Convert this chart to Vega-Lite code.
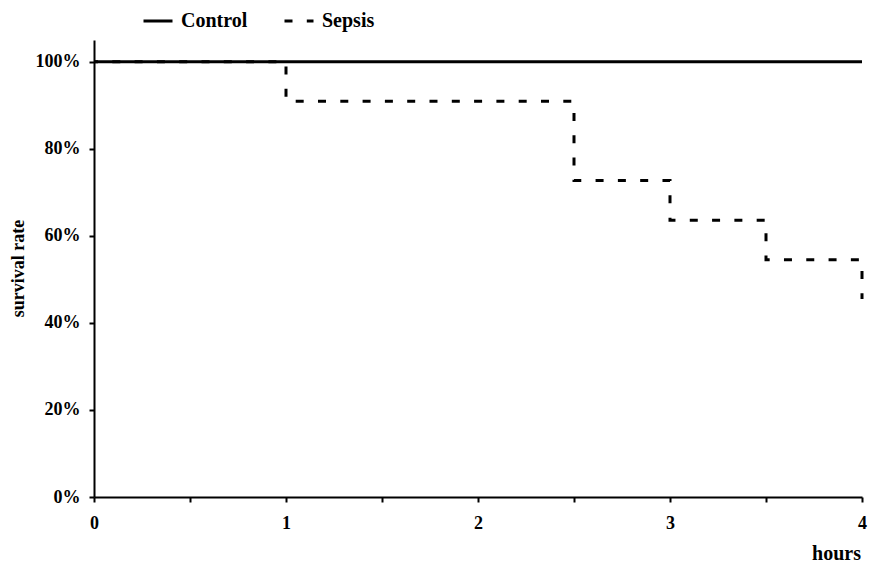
{
  "$schema": "https://vega.github.io/schema/vega-lite/v6.json",
  "width": 768,
  "height": 457,
  "autosize": {"type": "none"},
  "padding": {"left": 94, "top": 40, "right": 11, "bottom": 66},
  "background": "white",
  "config": {
    "view": {"stroke": null},
    "font": "Liberation Serif",
    "axis": {"grid": false, "domainColor": "black", "domainWidth": 2, "tickColor": "black", "tickWidth": 2, "tickSize": 5, "labelFont": "Liberation Serif", "labelFontWeight": "bold", "labelFontSize": 18, "labelColor": "black", "titleFont": "Liberation Serif", "titleFontWeight": "bold", "titleFontSize": 18, "titleColor": "black"},
    "legend": {"symbolStrokeColor": "black"}
  },
  "data": {
    "values": [
      {"series": "Control", "hours": 0, "rate": 1.0},
      {"series": "Control", "hours": 4, "rate": 1.0},
      {"series": "Sepsis", "hours": 0, "rate": 1.0},
      {"series": "Sepsis", "hours": 1, "rate": 0.909},
      {"series": "Sepsis", "hours": 2.5, "rate": 0.727},
      {"series": "Sepsis", "hours": 3, "rate": 0.636},
      {"series": "Sepsis", "hours": 3.5, "rate": 0.545},
      {"series": "Sepsis", "hours": 4, "rate": 0.455}
    ]
  },
  "mark": {"type": "line", "interpolate": "step-after", "color": "black", "strokeWidth": 3, "strokeCap": "butt", "strokeDashOffset": 4, "clip": false},
  "encoding": {
    "x": {
      "field": "hours", "type": "quantitative",
      "scale": {"domain": [0, 4], "nice": false, "zero": false},
      "axis": {
        "values": [0, 0.5, 1, 1.5, 2, 2.5, 3, 3.5, 4],
        "labelExpr": "datum.value % 1 === 0 ? format(datum.value, 'd') : ''",
        "labelPadding": 12,
        "labelFlush": false,
        "title": "hours",
        "titleX": 742,
        "titleY": 62,
        "titleAlign": "center",
        "titleBaseline": "alphabetic",
        "titleFontSize": 20
      }
    },
    "y": {
      "field": "rate", "type": "quantitative",
      "scale": {"domain": [0, 1.05], "nice": false, "zero": true},
      "axis": {
        "values": [0, 0.2, 0.4, 0.6, 0.8, 1.0],
        "format": ".0%",
        "labelPadding": 9,
        "title": "survival rate",
        "titleX": -76,
        "titleY": 228,
        "titleAngle": -90,
        "titleAlign": "center",
        "titleBaseline": "middle",
        "titleFontSize": 18
      }
    },
    "strokeDash": {
      "field": "series", "type": "nominal",
      "scale": {"domain": ["Control", "Sepsis"], "range": [[1, 0], [8, 14.3]]},
      "legend": {
        "title": null,
        "orient": "none",
        "legendX": 48,
        "legendY": -35,
        "direction": "horizontal",
        "symbolType": "stroke",
        "symbolSize": 841,
        "symbolStrokeWidth": 3,
        "symbolStrokeColor": "black",
        "labelFont": "Liberation Serif",
        "labelFontWeight": "bold",
        "labelFontSize": 20,
        "labelColor": "black",
        "labelOffset": 7,
        "columnPadding": 30
      }
    },
    "order": {"field": "hours", "type": "quantitative"}
  }
}
